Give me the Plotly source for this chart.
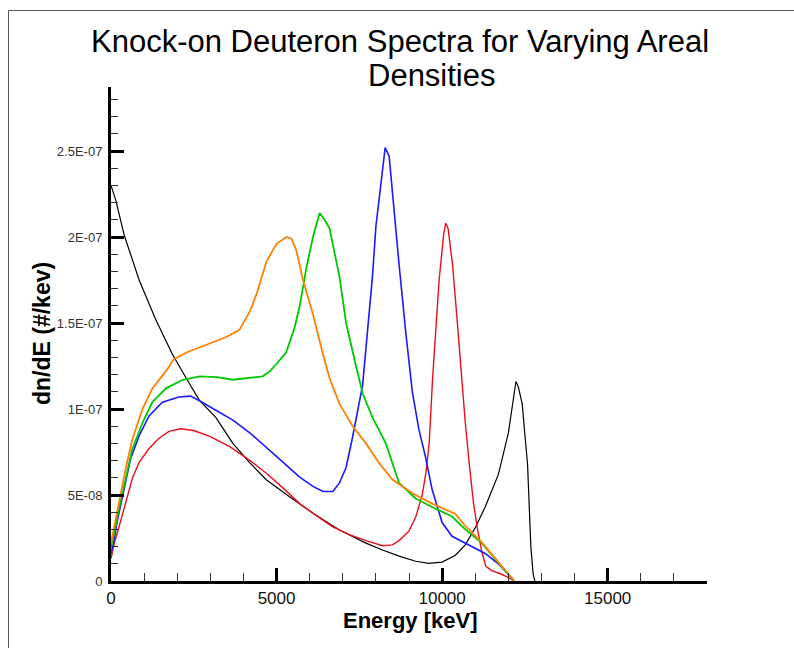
import plotly.graph_objects as go

# ---------------- data ----------------
black_x = [0, 150, 400, 850, 1350, 1850, 2300, 2670, 3170, 3680, 4180, 4680, 5390, 6090, 6900,
           7700, 8200, 8700, 9200, 9600, 10000, 10400, 10700, 11000, 11300, 11700, 12000, 12150,
           12230, 12300, 12420, 12500, 12580, 12680, 12750, 12800]
black_y = [2.30e-7, 2.21e-7, 2.01e-7, 1.75e-7, 1.52e-7, 1.32e-7, 1.17e-7, 1.05e-7, 9.5e-8, 8.0e-8,
           6.9e-8, 5.9e-8, 4.9e-8, 3.95e-8, 2.97e-8, 2.2e-8, 1.8e-8, 1.45e-8, 1.15e-8, 1.03e-8,
           1.1e-8, 1.5e-8, 2.1e-8, 3.1e-8, 4.3e-8, 6.2e-8, 8.6e-8, 1.06e-7, 1.16e-7, 1.13e-7,
           1.03e-7, 8.5e-8, 6.8e-8, 2.0e-8, 4e-9, 0]

red_x = [0, 100, 250, 450, 650, 850, 1150, 1450, 1750, 2100, 2500, 3000, 3600, 4200, 4700, 5200,
         5700, 6200, 6700, 7200, 7700, 8200, 8500, 8700, 9000, 9200, 9400, 9510, 9610, 9710, 9810,
         9910, 10050, 10110, 10180, 10310, 10440, 10570, 10700, 10820, 10950, 11070, 11200, 11320,
         11500, 11720, 11950, 12180]
red_y = [1.3e-8, 2.2e-8, 3.2e-8, 4.6e-8, 6.0e-8, 6.9e-8, 7.7e-8, 8.3e-8, 8.7e-8, 8.85e-8, 8.75e-8,
         8.4e-8, 7.8e-8, 7.0e-8, 6.25e-8, 5.4e-8, 4.5e-8, 3.8e-8, 3.15e-8, 2.7e-8, 2.35e-8, 2.05e-8,
         2.1e-8, 2.35e-8, 2.9e-8, 3.7e-8, 5.0e-8, 6.3e-8, 8.0e-8, 1.17e-7, 1.48e-7, 1.75e-7, 2.02e-7,
         2.08e-7, 2.05e-7, 1.85e-7, 1.55e-7, 1.21e-7, 9.2e-8, 6.8e-8, 4.5e-8, 3.0e-8, 1.7e-8, 8.5e-9,
         6e-9, 4.5e-9, 2.5e-9, 0]

blue_x = [0, 100, 180, 340, 590, 850, 1150, 1550, 2050, 2400, 2700, 3100, 3680, 4200, 4680, 5200,
          5690, 6100, 6400, 6700, 6900, 7100, 7300, 7500, 7600, 7750, 7900, 8000, 8150, 8280, 8400,
          8500, 8700, 8900, 9100, 9300, 9500, 9700, 10000, 10300, 10700, 11000, 11300, 11700, 12180]
blue_y = [1.6e-8, 2.4e-8, 3.4e-8, 4.9e-8, 7.1e-8, 8.45e-8, 9.6e-8, 1.04e-7, 1.07e-7, 1.075e-7,
          1.045e-7, 1.0e-7, 9.35e-8, 8.6e-8, 7.8e-8, 6.9e-8, 6.05e-8, 5.5e-8, 5.2e-8, 5.2e-8, 5.7e-8,
          6.6e-8, 8.4e-8, 1.05e-7, 1.14e-7, 1.46e-7, 1.78e-7, 2.06e-7, 2.31e-7, 2.52e-7, 2.47e-7,
          2.25e-7, 1.84e-7, 1.45e-7, 1.10e-7, 8.8e-8, 7.2e-8, 5.3e-8, 3.4e-8, 2.6e-8, 2.2e-8, 1.9e-8,
          1.6e-8, 1.0e-8, 0]

green_x = [0, 100, 235, 440, 640, 950, 1250, 1660, 2170, 2680, 3200, 3680, 4200, 4580, 4800, 4990,
           5290, 5540, 5700, 5900, 6100, 6300, 6450, 6600, 6900, 7100, 7400, 7600, 7900, 8300, 8700,
           9200, 9700, 10300, 10700, 11200, 11700, 12180]
green_y = [2.0e-8, 2.8e-8, 4.15e-8, 5.9e-8, 7.65e-8, 9.2e-8, 1.04e-7, 1.12e-7, 1.17e-7, 1.19e-7,
           1.185e-7, 1.17e-7, 1.18e-7, 1.19e-7, 1.22e-7, 1.26e-7, 1.33e-7, 1.47e-7, 1.6e-7, 1.82e-7,
           2.0e-7, 2.14e-7, 2.1e-7, 2.05e-7, 1.77e-7, 1.5e-7, 1.25e-7, 1.09e-7, 9.5e-8, 8.0e-8, 5.7e-8,
           4.8e-8, 4.3e-8, 3.75e-8, 3.0e-8, 2.2e-8, 1.05e-8, 0]

orange_x = [0, 100, 235, 440, 640, 950, 1250, 1660, 1900, 2300, 2700, 3100, 3500, 3880, 4000, 4200,
            4400, 4700, 5000, 5300, 5450, 5600, 5800, 6100, 6400, 6600, 6900, 7300, 7700, 8100, 8500,
            9100, 9700, 10400, 10700, 11200, 11700, 12180]
orange_y = [2.2e-8, 3.1e-8, 4.5e-8, 6.5e-8, 8.2e-8, 1.0e-7, 1.12e-7, 1.22e-7, 1.29e-7, 1.33e-7,
            1.36e-7, 1.39e-7, 1.42e-7, 1.46e-7, 1.50e-7, 1.57e-7, 1.67e-7, 1.86e-7, 1.96e-7, 2.0e-7,
            1.99e-7, 1.92e-7, 1.75e-7, 1.55e-7, 1.32e-7, 1.18e-7, 1.03e-7, 9.0e-8, 8.0e-8, 6.85e-8,
            5.9e-8, 5.1e-8, 4.5e-8, 3.9e-8, 3.2e-8, 2.25e-8, 1.1e-8, 0]

x_tickvals = [0, 5000, 10000, 15000]
x_ticktext = ["0", "5000", "10000", "15000"]
y_tickvals = [0, 5e-8, 1e-7, 1.5e-7, 2e-7, 2.5e-7]
y_ticktext = ["0", "5E-08", "1E-07", "1.5E-07", "2E-07", "2.5E-07"]

title_line1 = "Knock-on Deuteron Spectra for Varying Areal"
title_line2 = "Densities"
x_title = "Energy [keV]"
y_title = "dn/dE (#/kev)"

# ---------------- figure ----------------
W, H = 794, 648
L, R, T, B = 111, 87, 87, 67
PW, PH = W - L - R, H - T - B


def px_x(p):
    return (p - L) / PW


def px_y(p):
    return (H - B - p) / PH


FONT = "Liberation Sans, Arial, Helvetica, sans-serif"

fig = go.Figure()
series = [
    (black_x, black_y, "#000000", 1.2),
    (red_x, red_y, "#e8101a", 1.4),
    (blue_x, blue_y, "#1a1aff", 1.6),
    (green_x, green_y, "#00c800", 1.8),
    (orange_x, orange_y, "#ff8000", 1.8),
]
for xs, ys, col, lw in series:
    fig.add_trace(go.Scatter(x=xs, y=ys, mode="lines",
                             line=dict(color=col, width=lw), showlegend=False,
                             hoverinfo="skip"))

fig.update_layout(
    width=W, height=H,
    margin=dict(l=L, r=R, t=T, b=B, autoexpand=False),
    paper_bgcolor="white", plot_bgcolor="white",
    font=dict(family=FONT, color="#000"),
    showlegend=False,
    xaxis=dict(range=[0, 18000], showgrid=False, zeroline=False,
               showline=True, linewidth=3, linecolor="#000",
               ticks="inside", ticklen=13, tickwidth=2.5, tickcolor="#000",
               tickvals=x_tickvals, ticktext=x_ticktext,
               tickfont=dict(size=17, color="#111", family=FONT),
               minor=dict(ticks="inside", ticklen=8, tickwidth=1.2, tickcolor="#333", dtick=1000,
                          tick0=0, showgrid=False),
               automargin=False),
    yaxis=dict(range=[0, (H - B - T) / 86 * 5e-8], showgrid=False, zeroline=False,
               showline=True, linewidth=3, linecolor="#000",
               ticks="inside", ticklen=13, tickwidth=2.5, tickcolor="#000",
               tickvals=y_tickvals, ticktext=y_ticktext,
               tickfont=dict(size=13, color="#333", family=FONT),
               ticklabelstandoff=3,
               minor=dict(ticks="inside", ticklen=7, tickwidth=1.2, tickcolor="#333", dtick=1e-8,
                          tick0=0, showgrid=False),
               automargin=False),
)

# titles as annotations
fig.add_annotation(text=title_line1, xref="paper", yref="paper", x=px_x(400), y=px_y(42),
                   xanchor="center", yanchor="middle", showarrow=False,
                   font=dict(size=31, family=FONT, color="#000"))
fig.add_annotation(text=title_line2, xref="paper", yref="paper", x=px_x(432), y=px_y(75),
                   xanchor="center", yanchor="middle", showarrow=False,
                   font=dict(size=31, family=FONT, color="#000"))
fig.add_annotation(text="<b>" + x_title + "</b>", xref="paper", yref="paper", x=px_x(410),
                   y=px_y(620), xanchor="center", yanchor="middle", showarrow=False,
                   font=dict(size=22, family=FONT, color="#000"))
fig.add_annotation(text="<b>" + y_title + "</b>", xref="paper", yref="paper", x=px_x(42),
                   y=px_y(334), xanchor="center", yanchor="middle", showarrow=False,
                   textangle=-90, font=dict(size=23, family=FONT, color="#000"))

# slide frame lines (top and left)
fig.add_shape(type="line", xref="paper", yref="paper", x0=px_x(8.5), x1=px_x(W), y0=px_y(10.5),
              y1=px_y(10.5), line=dict(color="#555", width=1))
fig.add_shape(type="line", xref="paper", yref="paper", x0=px_x(8.5), x1=px_x(8.5), y0=px_y(10.5),
              y1=px_y(H), line=dict(color="#555", width=1))

fig.write_html("out.html")
